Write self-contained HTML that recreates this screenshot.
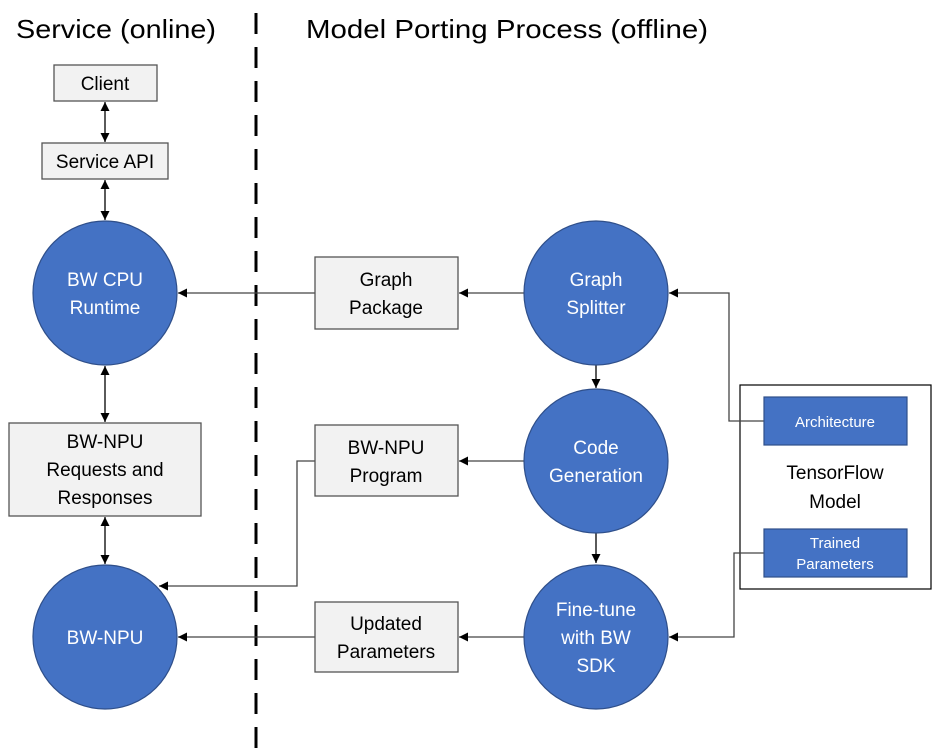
<!DOCTYPE html>
<html><head><meta charset="utf-8"><style>
html,body{margin:0;padding:0;background:#fff;}
svg{display:block;}
text{font-family:"Liberation Sans",sans-serif;}
</style></head><body>
<svg width="933" height="750" viewBox="0 0 933 750" xmlns="http://www.w3.org/2000/svg">
<defs>
<marker id="a" viewBox="0 0 10 10" refX="10" refY="5" markerWidth="9" markerHeight="9" markerUnits="userSpaceOnUse" orient="auto-start-reverse">
<path d="M0,0 L10,5 L0,10 z" fill="#000"/></marker>
</defs>
<text x="16" y="38" font-size="26" textLength="200" lengthAdjust="spacingAndGlyphs">Service (online)</text>
<text x="306" y="38" font-size="26" textLength="402" lengthAdjust="spacingAndGlyphs">Model Porting Process (offline)</text>
<line x1="256" y1="13" x2="256" y2="750" stroke="#000" stroke-width="3" stroke-dasharray="21 13"/>

<rect x="740" y="385" width="191" height="204" fill="#fff" stroke="#000" stroke-width="1.2"/>

<g stroke="#000" stroke-width="1.3" fill="none">
<line x1="105" y1="102" x2="105" y2="142" marker-start="url(#a)" marker-end="url(#a)"/>
<line x1="105" y1="180" x2="105" y2="220" marker-start="url(#a)" marker-end="url(#a)"/>
<line x1="105" y1="366" x2="105" y2="422" marker-start="url(#a)" marker-end="url(#a)"/>
<line x1="105" y1="517" x2="105" y2="564" marker-start="url(#a)" marker-end="url(#a)"/>
<line x1="596" y1="365" x2="596" y2="388" marker-end="url(#a)"/>
<line x1="596" y1="533" x2="596" y2="563" marker-end="url(#a)"/>
</g>
<g stroke="#444" stroke-width="1.3" fill="none">
<line x1="315" y1="293" x2="178" y2="293" marker-end="url(#a)"/>
<line x1="524" y1="293" x2="459" y2="293" marker-end="url(#a)"/>
<line x1="524" y1="461" x2="459" y2="461" marker-end="url(#a)"/>
<line x1="524" y1="637" x2="459" y2="637" marker-end="url(#a)"/>
<line x1="315" y1="637" x2="178" y2="637" marker-end="url(#a)"/>
<polyline points="315,461 297,461 297,586 159,586" marker-end="url(#a)"/>
<polyline points="764,421 729,421 729,293 669,293" marker-end="url(#a)"/>
<polyline points="764,553 734,553 734,637 669,637" marker-end="url(#a)"/>
</g>

<g fill="#f2f2f2" stroke="#555" stroke-width="1.3">
<rect x="54" y="65" width="103" height="36"/>
<rect x="42" y="143" width="126" height="36"/>
<rect x="9" y="423" width="192" height="93"/>
<rect x="315" y="257" width="143" height="72"/>
<rect x="315" y="425" width="143" height="71"/>
<rect x="315" y="602" width="143" height="70"/>
</g>
<g font-size="19" text-anchor="middle" fill="#000">
<text x="105" y="90">Client</text>
<text x="105" y="168">Service API</text>
<text x="105" y="448">BW-NPU</text>
<text x="105" y="476">Requests and</text>
<text x="105" y="504">Responses</text>
<text x="386" y="286">Graph</text>
<text x="386" y="314">Package</text>
<text x="386" y="454">BW-NPU</text>
<text x="386" y="482">Program</text>
<text x="386" y="630">Updated</text>
<text x="386" y="658">Parameters</text>
</g>

<g fill="#4472c4" stroke="#2f4f8a" stroke-width="1.2">
<circle cx="105" cy="293" r="72"/>
<circle cx="105" cy="637" r="72"/>
<circle cx="596" cy="293" r="72"/>
<circle cx="596" cy="461" r="72"/>
<circle cx="596" cy="637" r="72"/>
</g>
<g font-size="19" text-anchor="middle" fill="#fff">
<text x="105" y="286">BW CPU</text>
<text x="105" y="314">Runtime</text>
<text x="105" y="644">BW-NPU</text>
<text x="596" y="286">Graph</text>
<text x="596" y="314">Splitter</text>
<text x="596" y="454">Code</text>
<text x="596" y="482">Generation</text>
<text x="596" y="616">Fine-tune</text>
<text x="596" y="644">with BW</text>
<text x="596" y="672">SDK</text>
</g>

<rect x="764" y="397" width="143" height="48" fill="#4472c4" stroke="#2f4f8a" stroke-width="1.2"/>
<rect x="764" y="529" width="143" height="48" fill="#4472c4" stroke="#2f4f8a" stroke-width="1.2"/>
<g font-size="15" text-anchor="middle" fill="#fff">
<text x="835" y="427">Architecture</text>
<text x="835" y="548">Trained</text>
<text x="835" y="569">Parameters</text>
</g>
<g font-size="19" text-anchor="middle" fill="#000">
<text x="835" y="479">TensorFlow</text>
<text x="835" y="508">Model</text>
</g>
</svg>
</body></html>
